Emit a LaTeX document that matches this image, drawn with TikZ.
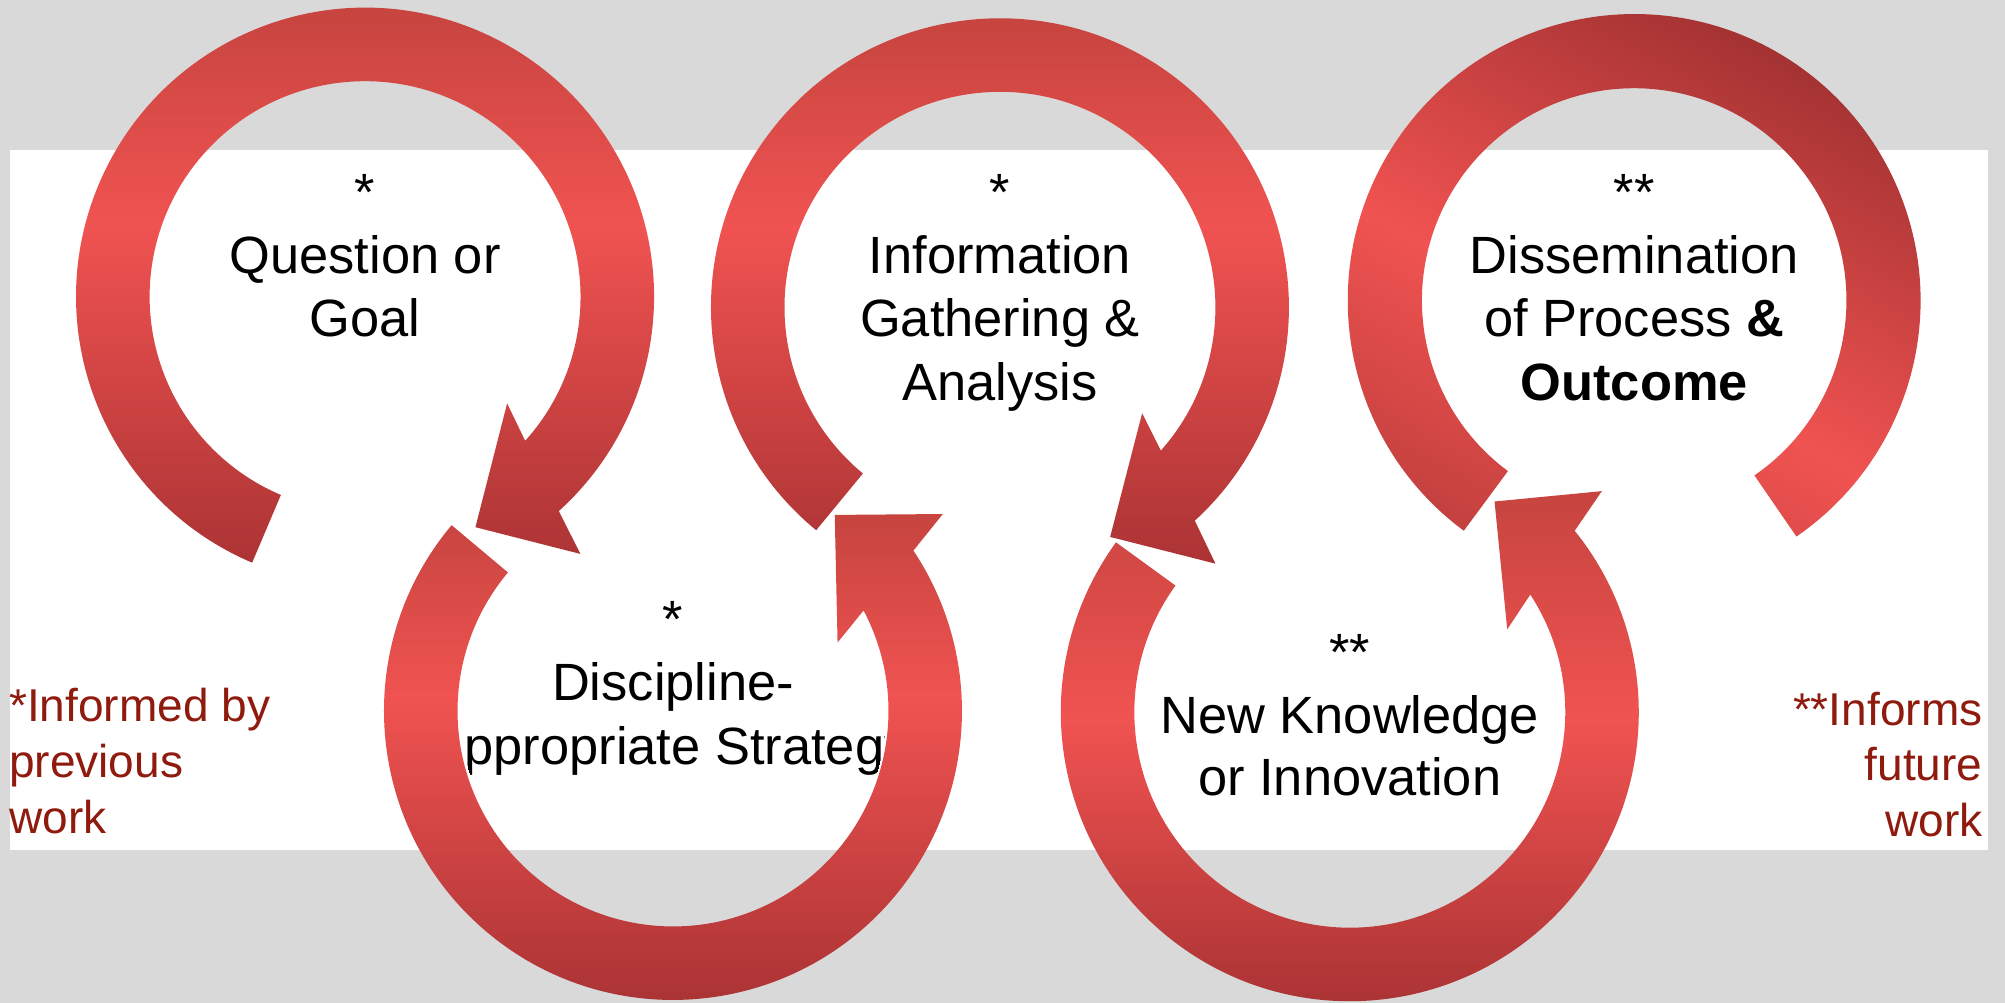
\documentclass[tikz,border=0pt]{standalone}
\usepackage{fontspec}
\setmainfont{Liberation Sans}
\definecolor{bggray}{HTML}{D9D9D9}
\definecolor{rlight}{HTML}{F05351}
\definecolor{rtop}{HTML}{C6443F}
\definecolor{rbot}{HTML}{AB3334}
\definecolor{rfive}{HTML}{9E3030}
\definecolor{rfivelow}{HTML}{BD3E3C}
\definecolor{notered}{RGB}{143,26,14}
\pgfdeclareverticalshading{shone}{600pt}{color(0pt)=(rbot); color(268pt)=(rlight); color(438pt)=(rtop)}
\pgfdeclareverticalshading{shthree}{600pt}{color(0pt)=(rbot); color(265.3pt)=(rlight); color(429pt)=(rtop)}
\pgfdeclareverticalshading{shtwo}{600pt}{color(0pt)=(rbot); color(239pt)=(rlight); color(383pt)=(rtop)}
\pgfdeclareverticalshading{shfour}{600pt}{color(0pt)=(rbot); color(222pt)=(rlight); color(402pt)=(rtop)}
\pgfdeclareverticalshading{shfive}{600pt}{color(0pt)=(rfivelow); color(207.5pt)=(rlight); color(490pt)=(rfive)}
\begin{document}
\begin{tikzpicture}[x=1pt,y=1pt,
  lbl/.style={anchor=base, inner sep=0pt, font=\fontsize{41}{49}\selectfont},
  note/.style={inner sep=0pt, text=notered, font=\fontsize{36}{43}\selectfont},
  vsh/.style 2 args={path picture={
      \node[inner sep=0pt, outer sep=0pt, anchor=south] (fill#1) at (0,#2) {\pgfuseshading{#1}};}},
  dsh/.style={path picture={
      \node[inner sep=0pt, outer sep=0pt, anchor=center, rotate=-28] (fillfive) at (0,0) {\pgfuseshading{shfive}};}}]
\useasboundingbox (0,0) rectangle (1568,784);
\fill[bggray] (0,0) rectangle (1568,784);
\fill[white] (7.5,119.5) rectangle (1554.5,666.7);

% --- texts inside rings
\node[lbl] (q0) at (285.5,619.4) {*};
\node[lbl] (q1) at (285.5,570) {Question or};
\node[lbl] (q2) at (285.5,520.6) {Goal};

\node[lbl] (i0) at (782,619.4) {*};
\node[lbl] (i1) at (782,570) {Information};
\node[lbl] (i2) at (782,520.6) {Gathering \&};
\node[lbl] (i3) at (782,471) {Analysis};

\node[lbl] (d0) at (1278,619.4) {**};
\node[lbl] (d1) at (1278,570) {Dissemination};
\node[lbl] (d2) at (1278,520.6) {of Process \textbf{\&}};
\node[lbl] (d3) at (1278,471) {\textbf{Outcome}};

\begin{scope}
\clip (526.3,228) circle[radius=166.5];
\node[lbl] (s0) at (526.3,285.5) {*};
\node[lbl] (s1) at (526.3,236.2) {Discipline-};
\node[lbl] (s2) at (526.3,186.5) {appropriate Strategy};
\end{scope}

\node[lbl] (k0) at (1055.6,259.7) {**};
\node[lbl] (k1) at (1055.6,210.7) {New Knowledge};
\node[lbl] (k2) at (1055.6,161.5) {or Innovation};

% --- side notes
\node[note, anchor=base west] (la) at (7,219.6) {*Informed by};
\node[note, anchor=base west] (lb) at (7,176.1) {previous};
\node[note, anchor=base west] (lc) at (7,132.3) {work};
\node[note, anchor=base east] (ra) at (1550.5,217) {**Informs};
\node[note, anchor=base east] (rb) at (1550.5,173.5) {future};
\node[note, anchor=base east] (rc) at (1550.5,129.7) {work};

% --- ring 1: Question or Goal
\begin{scope}[shift={(285.5,552)}]
\path[vsh={shone}{-211}]
  (247:226) arc[start angle=247, end angle=-47.9, radius=226]
  -- (168.4,-201.2) -- (86.3,-180.3) -- (111.1,-83.5)
  -- (-42:168.5) arc[start angle=-42, end angle=247, radius=168.5] -- cycle;
\end{scope}

% --- ring 3: Information Gathering
\begin{scope}[shift={(782,543.7)}]
\path[vsh={shthree}{-202}]
  (230.5:226) arc[start angle=230.5, end angle=-47.6, radius=226]
  -- (168.5,-200.5) -- (86.2,-179.6) -- (111.2,-82.9)
  -- (-41.7:168.5) arc[start angle=-41.7, end angle=230.5, radius=168.5] -- cycle;
\end{scope}

% --- ring 2: Discipline-appropriate Strategy
\begin{scope}[shift={(526.3,228)}]
\path[vsh={shtwo}{-228}]
  (140:226) arc[start angle=140, end angle=393.7, radius=226]
  -- (211,154) -- (126.5,153.3) -- (128.7,53.5)
  -- (27.8:168.5) arc[start angle=387.8, end angle=140, radius=168.5] -- cycle;
\end{scope}

% --- ring 4: New Knowledge
\begin{scope}[shift={(1055.6,227)}]
\path[vsh={shfour}{-228}]
  (144:226) arc[start angle=144, end angle=398.9, radius=226]
  -- (197.1,172.9) -- (113.2,164.8) -- (123.1,64.8)
  -- (33.1:168.5) arc[start angle=393.1, end angle=144, radius=168.5] -- cycle;
\end{scope}

% --- ring 5: Dissemination
\begin{scope}[shift={(1278,549)}]
\path[dsh]
  (233.5:224) arc[start angle=233.5, end angle=-55.5, radius=224]
  -- (-55.5:166) arc[start angle=-55.5, end angle=233.5, radius=166] -- cycle;
\end{scope}
\end{tikzpicture}
\end{document}
